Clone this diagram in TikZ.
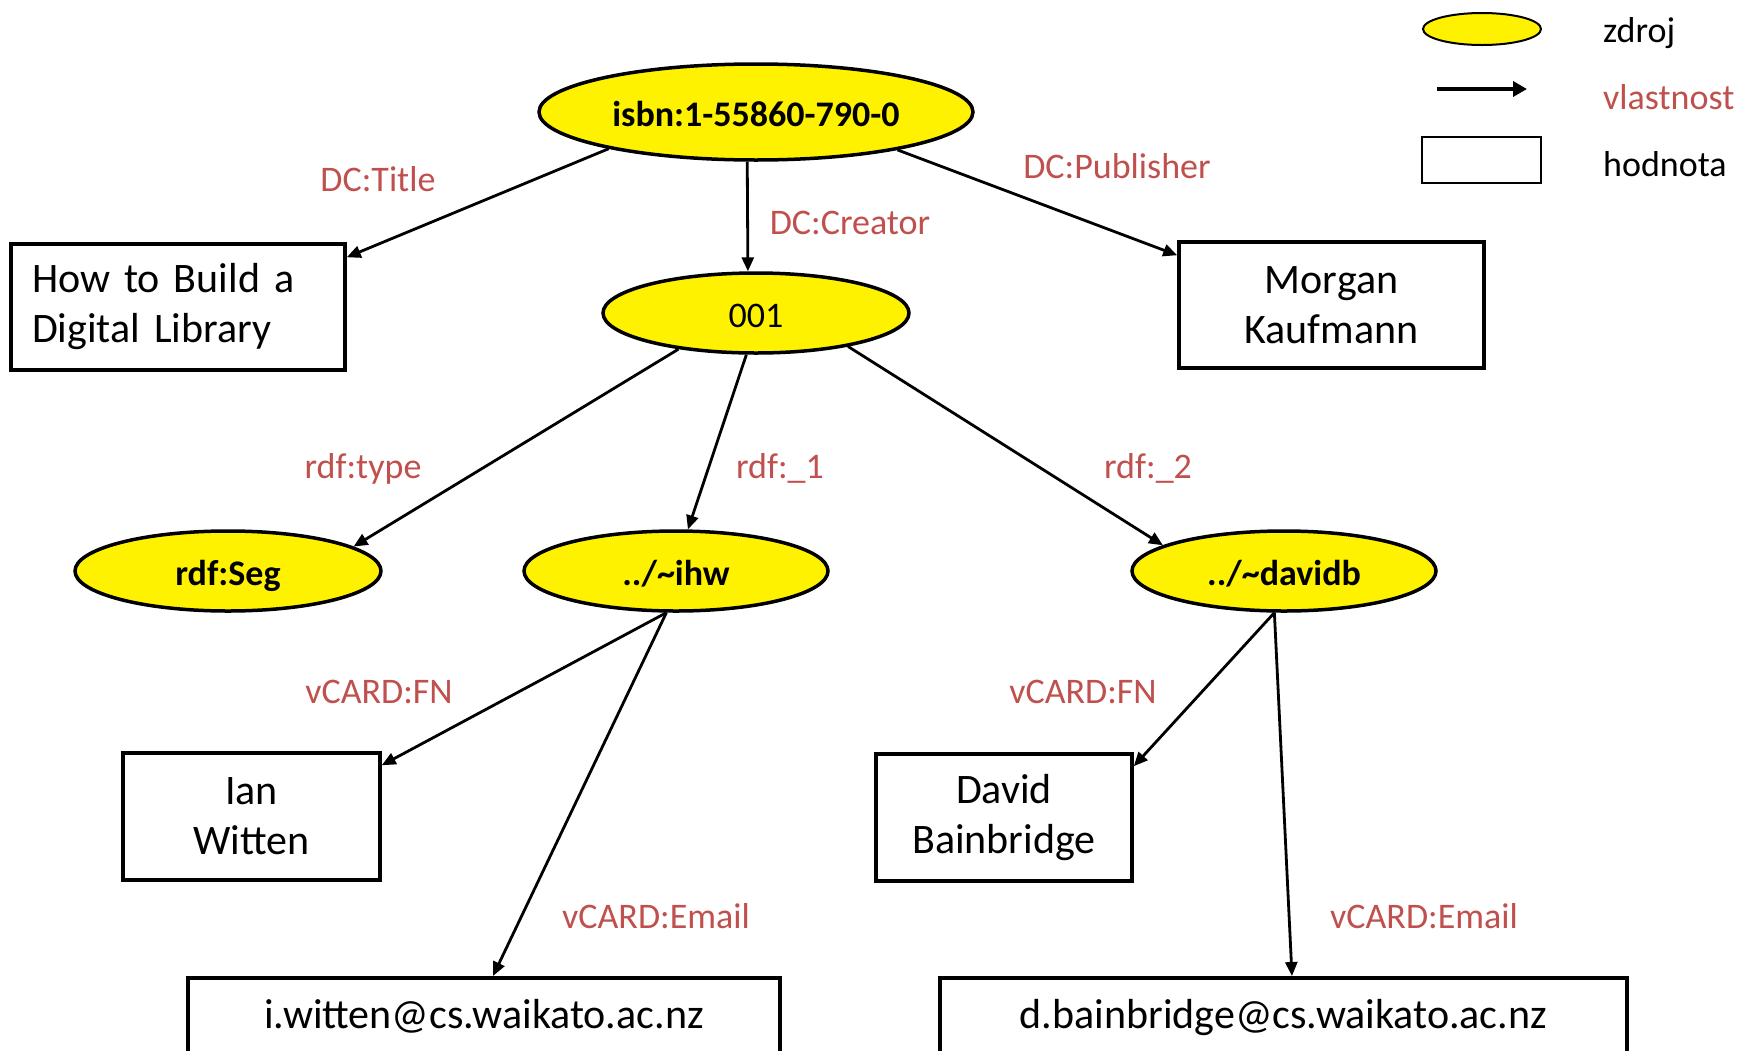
\documentclass[tikz,border=0pt]{standalone}
\usepackage{fontspec}
\setmainfont{Carlito}
\usetikzlibrary{shapes.geometric,arrows.meta}
\definecolor{propred}{RGB}{192,80,77}
\newcommand{\fsz}[1]{\fontsize{#1pt}{#1pt}\selectfont}
\begin{document}
\begin{tikzpicture}[x=1pt,y=-1pt,
  resnode/.style={ellipse, draw, fill=yellow, line width=3.5pt, inner sep=0pt,
    font=\fsz{36}, text height=28pt, text depth=0pt},
  valnode/.style={draw, rectangle, line width=3.5pt, inner sep=0pt,
    font=\fontsize{42pt}{50pt}\selectfont, align=center},
  proplabel/.style={text=propred, font=\fsz{36}, anchor=base, inner sep=0pt},
  legtext/.style={font=\fsz{36}, anchor=base west, inner sep=0pt},
  link/.style={-{Triangle[length=14pt,width=12pt]}, line width=2.8pt}]

\fill[white] (0,0) rectangle (1743,1050);
\useasboundingbox (0,0) rectangle (1743,1050);
\clip (0,0) rectangle (1743,1050);

% resources
\node[resnode, minimum width=434pt, minimum height=96pt] (isbn) at (756,112) {\bfseries isbn:1-55860-790-0};
\node[resnode, minimum width=306pt, minimum height=80pt] (n001) at (756,313) {001};
\node[resnode, minimum width=306pt, minimum height=80pt] (seg) at (228,571) {\bfseries rdf:Seg};
\node[resnode, minimum width=304pt, minimum height=80pt] (ihw) at (676,571) {\bfseries ../\textasciitilde ihw};
\node[resnode, minimum width=304pt, minimum height=80pt] (davidb) at (1284,571) {\bfseries ../\textasciitilde davidb};

% values
\node[valnode, minimum width=334pt, minimum height=126pt, text width=292pt, align=left] (title) at (178,307) {How to Build a\\Digital Library};
\node[valnode, minimum width=305pt, minimum height=126pt] (morgan) at (1331.5,305) {Morgan\\Kaufmann};
\node[valnode, minimum width=257pt, minimum height=127pt] (ian) at (251.5,816.5) {Ian\\Witten};
\node[valnode, minimum width=256pt, minimum height=127pt] (david) at (1004,817.5) {David\\Bainbridge};
\node[valnode, anchor=north, minimum width=592pt, text height=51pt, text depth=100pt] (iwmail) at (484,976) {i.witten@cs.waikato.ac.nz};
\node[valnode, anchor=north, minimum width=687pt, text height=51pt, text depth=100pt] (dbmail) at (1283.5,976) {d.bainbridge@cs.waikato.ac.nz};

% properties
\draw[link] (isbn.194.7) -- ([yshift=-15pt]title.north east);
\draw[link] (isbn.260.5) -- (n001.101.3);
\draw[link] (isbn.345.7) -- ([yshift=-15pt]morgan.north west);
\draw[link] (n001.205.7) -- (seg.11.9);
\draw[link] (n001.257.3) -- (ihw.74.6);
\draw[link] (n001.340) -- (davidb.168.3);
\draw[link] (ihw.257.3) -- ([yshift=-14pt]ian.north east);
\draw[link] (ihw.257.3) -- ([xshift=9pt]iwmail.north);
\draw[link] (davidb.257.3) -- ([yshift=-14pt]david.north east);
\draw[link] (davidb.257.3) -- ([xshift=8.5pt]dbmail.north);

% property labels
\node[proplabel] (lt) at (378,191) {DC:Title};
\node[proplabel] (lc) at (850,234) {DC:Creator};
\node[proplabel] (lp) at (1117,178) {DC:Publisher};
\node[proplabel] (ltype) at (363,478) {rdf:type};
\node[proplabel] (l1) at (780,478) {rdf:\_1};
\node[proplabel] (l2) at (1148,478) {rdf:\_2};
\node[proplabel] (lfn1) at (379,703) {vCARD:FN};
\node[proplabel] (lfn2) at (1083,703) {vCARD:FN};
\node[proplabel] (lem1) at (656,928) {vCARD:Email};
\node[proplabel] (lem2) at (1424,928) {vCARD:Email};

% legend
\node[ellipse, draw, fill=yellow, line width=2pt, inner sep=0pt, minimum width=118pt, minimum height=32pt] (legres) at (1482,29) {};
\coordinate (legA) at (1437,89);
\coordinate (legB) at (1527,89);
\draw[-{Triangle[length=14pt,width=15pt]}, line width=3.5pt] (legA) -- (legB);
\node[draw, rectangle, line width=2pt, inner sep=0pt, minimum width=119pt, minimum height=46pt] (legval) at (1481.5,160) {};
\node[legtext] (tzdroj) at (1603,42) {zdroj};
\node[legtext, text=propred] (tvlast) at (1603,109) {vlastnost};
\node[legtext] (thodn) at (1603,176) {hodnota};
\end{tikzpicture}
\end{document}
